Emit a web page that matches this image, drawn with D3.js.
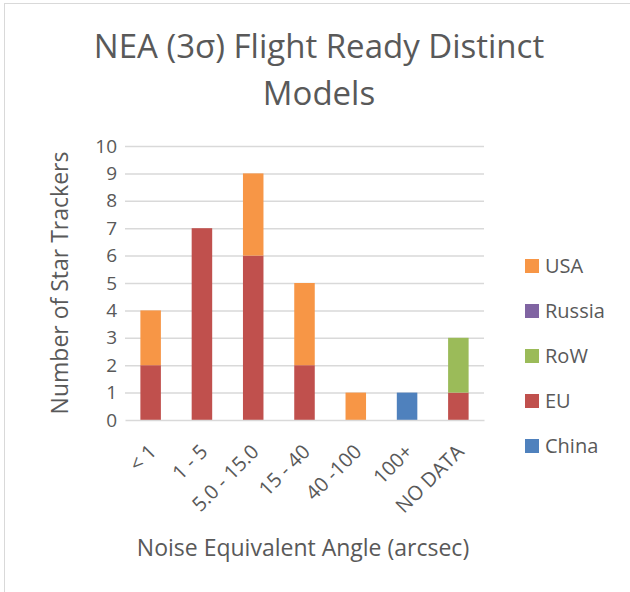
<!DOCTYPE html>
<html>
<head>
<meta charset="utf-8">
<script src="https://cdn.jsdelivr.net/npm/d3@7"></script>
<style>
  body { margin: 0; background: #fff; }
  text { font-family: "Open Sans", sans-serif; fill: #595959; }
</style>
</head>
<body>
<div id="chart"></div>
<script>
// categories (noise equivalent angle bins)
const categories = ["< 1", "1 - 5", "5.0 - 15.0", "15 - 40", "40 -100", "100+", "NO DATA"];
// series, bottom of stack first
const seriesNames = ["China", "EU", "RoW", "Russia", "USA"];
const china  = [0, 0, 0, 0, 0, 1, 0];
const eu     = [2, 7, 6, 2, 0, 0, 1];
const row    = [0, 0, 0, 0, 0, 0, 2];
const russia = [0, 0, 0, 0, 0, 0, 0];
const usa    = [2, 0, 3, 3, 1, 0, 0];
const yTicks = [0, 1, 2, 3, 4, 5, 6, 7, 8, 9, 10];
const colors = ["#4F81BD", "#C0504D", "#9BBB59", "#8064A2", "#F79646"];

const W = 630, H = 592;
const margin = { top: 146, left: 125, right: 146, bottom: 172 };
const plotW = W - margin.left - margin.right;
const plotH = H - margin.top - margin.bottom;

const table = categories.map((c, i) => ({
    cat: c, China: china[i], EU: eu[i], RoW: row[i], Russia: russia[i], USA: usa[i]
}));
const stacked = d3.stack().keys(seriesNames)(table);

const svg = d3.select("#chart").append("svg")
    .attr("width", W)
    .attr("height", H);

// chart frame
svg.append("rect")
   .attr("x", 4.5).attr("y", 3.5)
   .attr("width", W + 10).attr("height", H + 10)
   .attr("fill", "none")
   .attr("stroke", "#d9d9d9");

const g = svg.append("g")
    .attr("transform", `translate(${margin.left},${margin.top})`);

const x = d3.scaleBand()
    .domain(categories)
    .range([0, plotW])
    .paddingInner(0.6)
    .paddingOuter(0.3);

const y = d3.scaleLinear()
    .domain([0, 10])
    .range([plotH, 0]);

// gridlines
g.append("g")
 .selectAll("line")
 .data(yTicks.filter(t => t > 0))
 .join("line")
 .attr("x1", 0).attr("x2", plotW)
 .attr("y1", d => y(d) + 0.5).attr("y2", d => y(d) + 0.5)
 .attr("stroke", "#d9d9d9")
 .attr("stroke-width", 1.5);

// y axis labels
const yAxis = g.append("g")
    .call(d3.axisLeft(y).tickValues(yTicks).tickSize(0).tickPadding(8));
yAxis.select(".domain").remove();
yAxis.selectAll("text")
     .style("font-size", "19px")
     .style("font-family", "'Open Sans', sans-serif")
     .attr("fill", "#595959");

// bars
g.append("g")
 .selectAll("g")
 .data(stacked)
 .join("g")
 .attr("fill", (d, i) => colors[i])
 .selectAll("rect")
 .data(d => d)
 .join("rect")
 .attr("x", d => x(d.data.cat))
 .attr("y", d => y(d[1]))
 .attr("width", x.bandwidth())
 .attr("height", d => y(d[0]) - y(d[1]));

// x axis
const xAxis = g.append("g")
    .attr("transform", `translate(0,${plotH})`)
    .call(d3.axisBottom(x).tickSize(0).tickPadding(0));
xAxis.select(".domain")
     .attr("stroke", "#d9d9d9")
     .attr("stroke-width", 1.5);
xAxis.selectAll("text")
     .style("font-size", "20px")
     .style("font-family", "'Open Sans', sans-serif")
     .attr("fill", "#595959")
     .attr("text-anchor", "end")
     .attr("dy", "0.35em")
     .attr("transform", "translate(2,28) rotate(-45)");

// title
const title = svg.append("text")
    .attr("text-anchor", "middle")
    .style("font-size", "33px");
title.append("tspan").attr("x", 319).attr("y", 58).text("NEA (3σ) Flight Ready Distinct");
title.append("tspan").attr("x", 319).attr("y", 105).text("Models");

// axis titles
svg.append("text")
   .attr("transform", `translate(68,${margin.top + plotH / 2}) rotate(-90)`)
   .attr("text-anchor", "middle")
   .style("font-size", "23px")
   .text("Number of Star Trackers");

svg.append("text")
   .attr("x", 303).attr("y", 556)
   .attr("text-anchor", "middle")
   .style("font-size", "23px")
   .text("Noise Equivalent Angle (arcsec)");

// legend (top item is last series)
const legend = svg.append("g")
    .selectAll("g")
    .data(seriesNames.slice().reverse())
    .join("g")
    .attr("transform", (d, i) => `translate(525,${266 + i * 45})`);
legend.append("rect")
      .attr("x", 0).attr("y", -7)
      .attr("width", 14).attr("height", 14)
      .attr("fill", d => colors[seriesNames.indexOf(d)]);
legend.append("text")
      .attr("x", 20).attr("y", 0)
      .attr("dy", "0.35em")
      .style("font-size", "20px")
      .text(d => d);
</script>
</body>
</html>
